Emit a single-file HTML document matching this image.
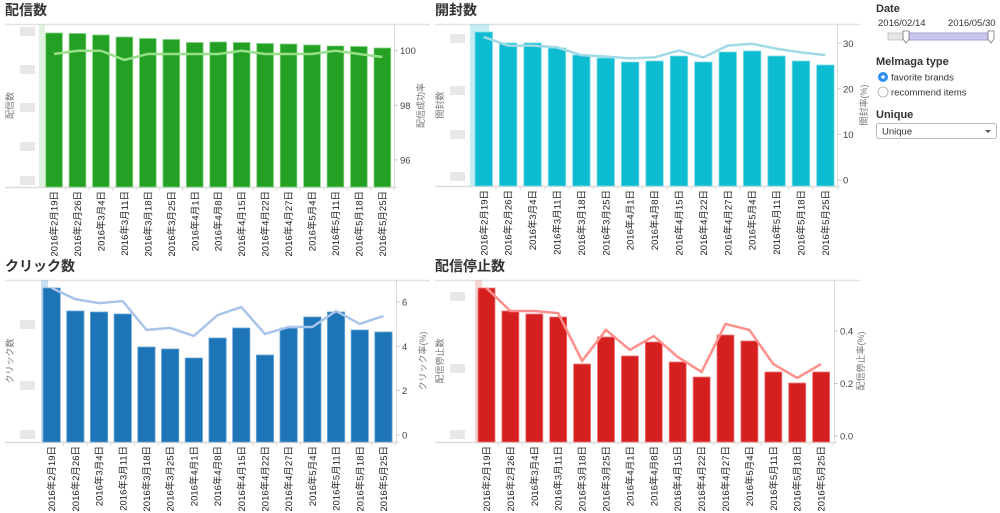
<!DOCTYPE html>
<html><head><meta charset="utf-8">
<style>
html,body{margin:0;padding:0;background:#fff;width:1000px;height:513px;overflow:hidden}
svg{display:block;font-family:"Liberation Sans","Noto Sans CJK JP",sans-serif}
</style></head>
<body>
<svg id="root" width="1000" height="513">
  <g>
    <text x="876" y="12" font-size="11" font-weight="bold" fill="#333">Date</text>
    <text x="878" y="26" font-size="9.5" fill="#333">2016/02/14</text>
    <text x="948" y="26" font-size="9.5" fill="#333">2016/05/30</text>
    <rect x="888" y="33" width="104" height="7" fill="#e6e6e6" stroke="#aaa" stroke-width="0.6"/>
    <rect x="906" y="33" width="84" height="7" fill="#c9c6ee" stroke="#8a86c8" stroke-width="0.6"/>
    <path d="M903,31 h6 v8 l-3,4 l-3,-4 z" fill="#fff" stroke="#777" stroke-width="0.8"/>
    <path d="M988,31 h6 v8 l-3,4 l-3,-4 z" fill="#fff" stroke="#777" stroke-width="0.8"/>
    <text x="876" y="65" font-size="11" font-weight="bold" fill="#333">Melmaga type</text>
    <circle cx="883" cy="77" r="5" fill="#2a8ef5"/>
    <circle cx="883" cy="77" r="1.8" fill="#fff"/>
    <text x="891" y="80.5" font-size="9.5" fill="#333">favorite brands</text>
    <circle cx="883" cy="92" r="5" fill="#fff" stroke="#aaa" stroke-width="0.8"/>
    <text x="891" y="95.5" font-size="9.5" fill="#333">recommend items</text>
    <text x="876" y="118" font-size="11" font-weight="bold" fill="#333">Unique</text>
    <rect x="876.5" y="123.5" width="120" height="15" rx="2" fill="#fff" stroke="#bbb"/>
    <text x="882" y="134.5" font-size="9.5" fill="#333">Unique</text>
    <path d="M985,130 h6 l-3,3 z" fill="#555"/>
  </g>
</svg>
<script>
const categories = ["2016年2月19日","2016年2月26日","2016年3月4日","2016年3月11日","2016年3月18日","2016年3月25日","2016年4月1日","2016年4月8日","2016年4月15日","2016年4月22日","2016年4月27日","2016年5月4日","2016年5月11日","2016年5月18日","2016年5月25日"];
const deliveryCounts = [154,153.5,152,150,148.5,147.5,144.5,145,144.5,143.5,143,142,141,140.5,139];
const deliveryRate = [99.88,100,100,99.66,99.88,99.88,99.88,99.88,100,99.88,99.88,99.88,100,99.88,99.77];
const deliveryRateTicks = [96,98,100];
const openCounts = [154,143,143,138,131,128,124,125,130,124,134,135,130,125,121];
const openRate = [31.4,29.5,29.5,29.1,27.4,27.1,26.7,26.9,28.4,26.9,29.5,29.9,28.8,28.0,27.4];
const openRateTicks = [0,10,20,30];
const clickCounts = [154,131,130,128,95,93,84,104,114,87,114,125,130,112,110];
const clickRate = [6.63,6.13,5.95,6.04,4.74,4.83,4.47,5.41,5.77,4.56,4.87,4.87,5.59,5.01,5.37];
const clickRateTicks = [0,2,4,6];
const unsubCounts = [154,131,128,125,78,105,86,100,80,65,107,101,70,59,70];
const unsubRate = [0.564,0.476,0.476,0.468,0.286,0.404,0.328,0.381,0.301,0.244,0.427,0.404,0.274,0.221,0.274];
const unsubRateTicks = [0.0,0.2,0.4];

const NS="http://www.w3.org/2000/svg";
const root=document.getElementById('root');
function mk(tag,attrs,parent){const e=document.createElementNS(NS,tag);for(const k in attrs)e.setAttribute(k,attrs[k]);(parent||root).appendChild(e);return e;}

function chart(cfg){
  const g=mk('g',{});
  
  
  const t=mk('text',{x:cfg.ox+5,y:cfg.top-9,'font-size':14,'font-weight':'bold',fill:'#333'},g);
  t.textContent=cfg.title;
  
  
  mk('line',{x1:cfg.ox+5,x2:cfg.ox+430,y1:cfg.top+0.5,y2:cfg.top+0.5,stroke:'#e3e3e3','stroke-width':1.5},g);
  mk('line',{x1:cfg.ox+5,x2:cfg.axisX+3,y1:cfg.bottom+0.5,y2:cfg.bottom+0.5,stroke:'#ddd','stroke-width':1.5},g);
  mk('line',{x1:cfg.axisX+0.5,x2:cfg.axisX+0.5,y1:cfg.top,y2:cfg.bottom,stroke:'#ddd'},g);
  cfg.blur.forEach(y=>{mk('rect',{x:cfg.ox+20,y:y,width:15,height:9,fill:'#ddd',opacity:0.7},g);});
  const lt=mk('text',{transform:`translate(${cfg.ox+13},${(cfg.top+cfg.bottom)/2}) rotate(-90)`,'text-anchor':'middle','font-size':9,fill:'#777'},g);
  lt.textContent=cfg.leftTitle;
  
  
  const rt=mk('text',{transform:`translate(${cfg.axisX+30},${(cfg.top+cfg.bottom)/2}) rotate(-90)`,'text-anchor':'middle','font-size':9,fill:'#777'},g);
  rt.textContent=cfg.rightTitle;
  
  
  const xC=i=>cfg.x0+cfg.bw/2+i*cfg.step;
  const yL=v=>cfg.bottom-v;
  const yR=v=>cfg.r0y+(v-cfg.r0)*(cfg.r1y-cfg.r0y)/(cfg.r1-cfg.r0);
  mk('rect',{x:cfg.hl[0],y:cfg.top,width:cfg.hl[1],height:cfg.bottom-cfg.top,fill:cfg.hlColor,opacity:0.45},g);
  cfg.counts.forEach((v,i)=>{
    const y=yL(v);
    const r=mk('rect',{x:xC(i)-cfg.bw/2,y:y,width:cfg.bw,height:cfg.bottom-y,fill:cfg.color,stroke:cfg.stroke,'stroke-width':0.8},g);
    
    
    mk('line',{x1:xC(i)+cfg.step/2,x2:xC(i)+cfg.step/2,y1:cfg.bottom,y2:cfg.bottom+4,stroke:'#ddd'},g);
    const tl=mk('text',{transform:`translate(${xC(i)+3.5},${cfg.bottom+4}) rotate(-90)`,'text-anchor':'end','font-size':9.5,fill:'#222'},g);
    tl.textContent=categories[i];
    
    
  });
  const pts=cfg.rate.map((v,i)=>xC(i)+','+yR(v)).join(' ');
  const pl=mk('polyline',{points:pts,fill:'none',stroke:cfg.lineColor,'stroke-width':2.5},g);
  
  
  cfg.ticks.forEach(v=>{
    const y=yR(v);
    mk('line',{x1:cfg.axisX,x2:cfg.axisX+4,y1:y,y2:y,stroke:'#ccc'},g);
    const tt=mk('text',{x:cfg.axisX+6,y:y+3.5,'font-size':9.5,fill:'#444'},g);
    tt.textContent=cfg.fmt(v);
    
    
  });
}
chart({name:'delivery-chart',title:'配信数',ox:0,top:24,bottom:187,x0:45.7,step:23.45,bw:16.7,axisX:394,
  counts:deliveryCounts,rate:deliveryRate,ticks:deliveryRateTicks,r0:100,r0y:50.7,r1:98,r1y:105.3,
  color:'#24a024',stroke:'#7fd07f',lineColor:'#98e08a',hl:[39,6],hlColor:'#b9e3b5',
  leftTitle:'配信数',rightTitle:'配信成功率',blur:[27,65,103,142,176],fmt:v=>String(v)});
chart({name:'open-chart',title:'開封数',ox:430,top:24,bottom:186,x0:475,step:24.4,bw:17.5,axisX:837,
  counts:openCounts,rate:openRate,ticks:openRateTicks,r0:0,r0y:180,r1:30,r1y:43.3,
  color:'#0dbcd0',stroke:'#7fdce6',lineColor:'#9fdae6',hl:[470,19],hlColor:'#7fd8e4',
  leftTitle:'開封数',rightTitle:'開封率(%)',blur:[34,86,130,172],fmt:v=>String(v)});
chart({name:'click-chart',title:'クリック数',ox:0,top:280,bottom:442,x0:43,step:23.7,bw:17.3,axisX:396,
  counts:clickCounts,rate:clickRate,ticks:clickRateTicks,r0:0,r0y:435,r1:6,r1y:302,
  color:'#1d74b6',stroke:'#6ea7d6',lineColor:'#a9c4ea',hl:[41,7],hlColor:'#8ab7de',
  leftTitle:'クリック数',rightTitle:'クリック率(%)',blur:[320,381,430],fmt:v=>String(v)});
chart({name:'unsubscribe-chart',title:'配信停止数',ox:430,top:280,bottom:442,x0:478,step:23.9,bw:17,axisX:834,
  counts:unsubCounts,rate:unsubRate,ticks:unsubRateTicks,r0:0,r0y:436,r1:0.4,r1y:331,
  color:'#d62020',stroke:'#ee7a7a',lineColor:'#ff8f8a',hl:[475,7],hlColor:'#e9a0a0',
  leftTitle:'配信停止数',rightTitle:'配信停止率(%)',blur:[292,364,430],fmt:v=>v.toFixed(1)});
</script>
</body></html>
